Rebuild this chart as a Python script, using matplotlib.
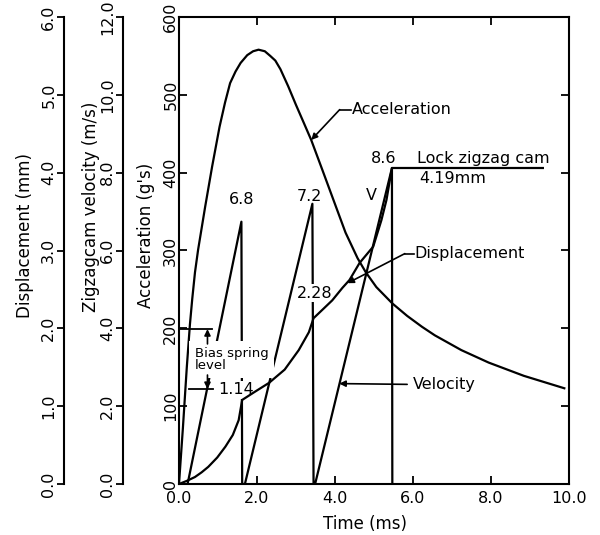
import matplotlib
matplotlib.use("Agg")
import matplotlib.pyplot as plt
from matplotlib.ticker import FormatStrFormatter, MultipleLocator

plt.rcParams['font.family'] = ['DejaVu Sans']

# acceleration (g's) vs time (ms)
acc_t = [0.0, 0.1, 0.2, 0.28, 0.34, 0.41, 0.49, 0.67, 0.85, 1.04, 1.18, 1.31, 1.45,
         1.58, 1.75, 1.9, 2.04, 2.2, 2.34, 2.47, 2.6, 2.8, 3.0, 3.2, 3.39, 3.68, 3.96,
         4.27, 4.58, 4.79, 5.06, 5.47, 5.85, 6.23, 6.56, 7.24, 7.94, 8.84, 9.88]
acc_g = [0, 72, 150, 205, 238, 272, 301, 356, 408, 459, 490, 515, 530,
         541, 551, 556, 558, 556, 550, 544, 533, 511, 487, 464, 442, 403, 365,
         323, 290, 272, 253, 232, 216, 202, 191, 172, 156, 139, 123]

# zigzag cam velocity (m/s)
vel_t = [0.22, 1.60, 1.62, 1.69, 3.42, 3.45, 3.49, 5.46, 5.47]
vel_v = [0.0, 6.74, 0.0, 0.0, 7.2, 0.0, 0.0, 8.12, 0.0]

# displacement (mm), ends on the lock level
disp_t = [0.0, 0.2, 0.41, 0.58, 0.75, 0.98, 1.19, 1.38, 1.53, 1.62, 1.93, 2.31,
          2.71, 3.07, 3.33, 3.45, 3.68, 3.93, 4.19, 4.37, 4.63, 4.98, 5.19, 5.32,
          5.46, 9.33]
disp_mm = [0.0, 0.04, 0.09, 0.15, 0.22, 0.34, 0.48, 0.63, 0.82, 1.08, 1.18, 1.30,
           1.47, 1.72, 1.95, 2.13, 2.24, 2.36, 2.52, 2.62, 2.84, 3.05, 3.39, 3.65,
           4.06, 4.06]

# peak labels: (text, t, g)
peak_labels = [('6.8', 1.61, 366), ('7.2', 3.35, 369), ('8.6', 5.24, 418)]

fs = 11.5
lw = 1.6

fig = plt.figure(figsize=(6.0, 5.35), dpi=100)
ax = fig.add_axes([179 / 600, 51 / 535, 390 / 600, 467 / 535])
ax_v = ax.twinx()
ax_d = ax.twinx()
ax_v.set_zorder(1)
ax.set_zorder(2)
ax_d.set_zorder(3)
ax.patch.set_visible(False)

# main axis: acceleration
ax.plot(acc_t, acc_g, color='black', lw=lw)
ax.set_xlim(0, 10)
ax.set_ylim(0, 600)
ax.xaxis.set_major_locator(MultipleLocator(2))
ax.yaxis.set_major_locator(MultipleLocator(100))
ax.xaxis.set_major_formatter(FormatStrFormatter('%.1f'))
ax.yaxis.set_major_formatter(FormatStrFormatter('%d'))
ax.tick_params(direction='in', length=6, width=1.3, labelsize=fs,
               top=True, right=True, left=True, bottom=True,
               labelleft=True, labelright=False)
ax.tick_params(axis='y', labelrotation=90, pad=0.5)
ax.tick_params(axis='x', pad=5)
for lbl in ax.get_yticklabels():
    lbl.set_verticalalignment('center')
for s in ax.spines.values():
    s.set_linewidth(1.5)
ax.set_xlabel('Time (ms)', fontsize=12)
ax.xaxis.set_label_coords(0.477, -0.066)
ax.set_ylabel("Acceleration (g's)", fontsize=12)
ax.yaxis.set_label_coords(-0.0615, 0.533)

# velocity axis
ax_v.plot(vel_t, vel_v, color='black', lw=lw)
ax_v.set_ylim(0, 12)
ax_v.spines['left'].set_position(('axes', -0.1436))
ax_v.spines['left'].set_visible(True)
ax_v.spines['left'].set_linewidth(1.5)
for s in ['right', 'top', 'bottom']:
    ax_v.spines[s].set_visible(False)
ax_v.yaxis.set_ticks_position('left')
ax_v.yaxis.set_label_position('left')
ax_v.yaxis.set_major_locator(MultipleLocator(2))
ax_v.yaxis.set_major_formatter(FormatStrFormatter('%.1f'))
ax_v.tick_params(axis='y', direction='out', length=5, width=1.3,
                 labelsize=fs, labelrotation=90, pad=0.5)
for lbl in ax_v.get_yticklabels():
    lbl.set_verticalalignment('center')
ax_v.set_ylabel('Zigzagcam velocity (m/s)', fontsize=12)
ax_v.yaxis.set_label_coords(-0.2026, 0.593)

# displacement axis
ax_d.plot(disp_t, disp_mm, color='black', lw=lw)
ax_d.set_ylim(0, 6)
ax_d.spines['left'].set_position(('axes', -0.295))
ax_d.spines['left'].set_visible(True)
ax_d.spines['left'].set_linewidth(1.5)
for s in ['right', 'top', 'bottom']:
    ax_d.spines[s].set_visible(False)
ax_d.yaxis.set_ticks_position('left')
ax_d.yaxis.set_label_position('left')
ax_d.yaxis.set_major_locator(MultipleLocator(1))
ax_d.yaxis.set_major_formatter(FormatStrFormatter('%.1f'))
ax_d.tick_params(axis='y', direction='out', length=5, width=1.3,
                 labelsize=fs, labelrotation=90, pad=0.5)
for lbl in ax_d.get_yticklabels():
    lbl.set_verticalalignment('center')
ax_d.set_ylabel('Displacement (mm)', fontsize=12)
ax_d.yaxis.set_label_coords(-0.372, 0.533)

# annotations (all in acceleration coordinates)
arrow_kw = dict(arrowstyle='-|>', color='black', lw=1.2, mutation_scale=9,
                shrinkA=0, shrinkB=0)


def leader(text, tip, bend, text_x):
    ax.plot([bend[0], text_x - 0.02], [bend[1], bend[1]], color='black', lw=1.2)
    ax.annotate('', xy=tip, xytext=bend, arrowprops=arrow_kw)
    ax.text(text_x, bend[1], text, ha='left', va='center', fontsize=fs)


leader('Acceleration', (3.39, 442), (4.12, 481), 4.43)
leader('Displacement', (4.32, 258), (5.79, 296), 6.04)
ax.annotate('', xy=(4.11, 129), xytext=(5.85, 128), arrowprops=arrow_kw)
ax.text(6.0, 128, 'Velocity', ha='left', va='center', fontsize=fs)

for txt, t, g in peak_labels:
    ax.text(t, g, txt, ha='center', va='center', fontsize=fs)
ax.text(4.94, 371, 'V', ha='center', va='center', fontsize=fs)
ax.text(6.1, 418, 'Lock zigzag cam', ha='left', va='center', fontsize=fs)
ax.text(6.15, 392, '4.19mm', ha='left', va='center', fontsize=fs)

white = dict(facecolor='white', edgecolor='none', pad=1.0)
ax.text(3.49, 245, '2.28', ha='center', va='center', fontsize=fs, bbox=white)
ax.text(1.47, 121, '1.14', ha='center', va='center', fontsize=fs, bbox=white)
ax.text(0.40, 160, 'Bias spring\nlevel', ha='left', va='center', fontsize=9.5,
        linespacing=0.9, bbox=dict(facecolor='white', edgecolor='none', pad=4))

# bias spring bracket
ax.plot([0.0, 0.85], [199, 199], color='black', lw=1.3, zorder=6)
ax.plot([0.26, 0.88], [122, 122], color='black', lw=1.3, zorder=6)
ax.annotate('', xy=(0.73, 199), xytext=(0.73, 180), arrowprops=arrow_kw, zorder=6)
ax.annotate('', xy=(0.73, 122), xytext=(0.73, 140), arrowprops=arrow_kw, zorder=6)

fig.savefig('out.png', dpi=100, facecolor='white')
